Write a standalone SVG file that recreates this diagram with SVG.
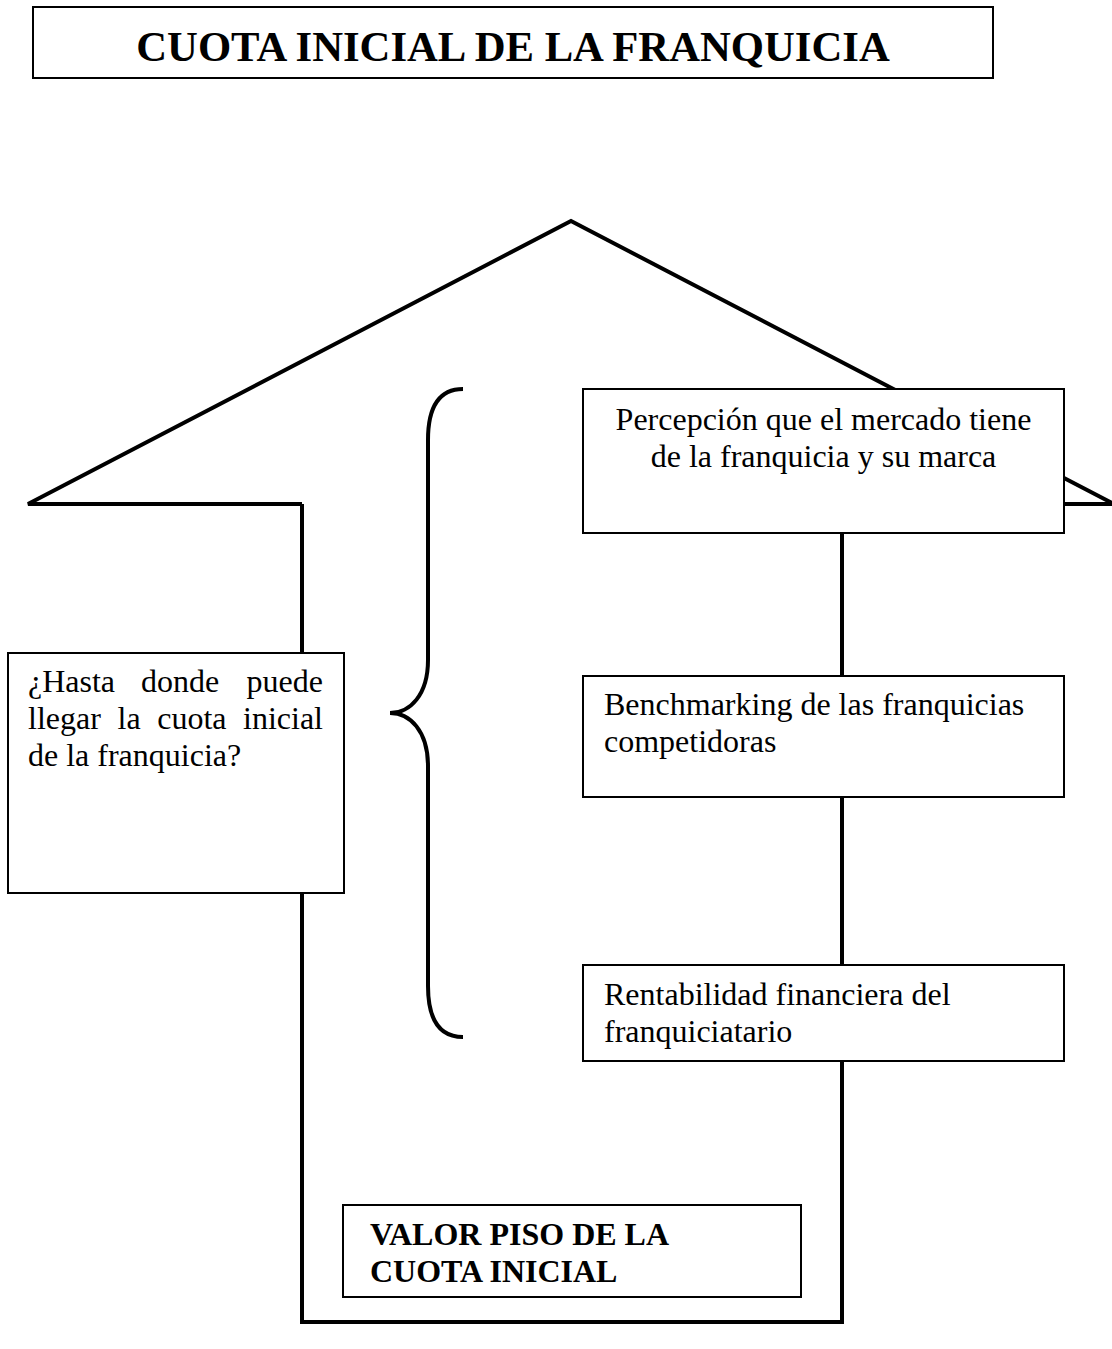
<svg xmlns="http://www.w3.org/2000/svg" width="1112" height="1349" viewBox="0 0 1112 1349">
  <style>
    .box { fill: #ffffff; stroke: #000000; stroke-width: 2; }
    .wall { fill: none; stroke: #000000; stroke-width: 4; stroke-linejoin: miter; }
    .txt { font-family: "Liberation Serif", "Times New Roman", serif; font-size: 32px; fill: #000000; }
    .bold { font-weight: bold; }
    .title { font-size: 42.7px; }
  </style>

  <rect width="1112" height="1349" fill="#ffffff"/>

  <!-- Title -->
  <g id="title">
    <rect class="box" x="33" y="7" width="960" height="71"/>
    <text class="txt bold title" x="513" y="61" text-anchor="middle">CUOTA INICIAL DE LA FRANQUICIA</text>
  </g>

  <!-- House outline: roof, walls and floor; the right wall links the factor boxes -->
  <g id="connectors">
    <polyline class="wall" points="302,504 28,504 571,221 1114,504 842,504"/>
    <polyline class="wall" points="302,504 302,1322 842,1322 842,504"/>
  </g>

  <!-- Curly brace grouping the three factors -->
  <g id="brace">
    <path class="wall" d="M463,389 C440,389 428,405 428,440 L428,660 C428,695 410,713 390,713 C410,713 428,731 428,766 L428,986 C428,1021 440,1037 463,1037"/>
  </g>

  <!-- Question box -->
  <g id="question">
    <rect class="box" x="8" y="653" width="336" height="240"/>
    <text class="txt" y="692">
      <tspan x="28">¿Hasta</tspan><tspan x="141">donde</tspan><tspan x="323" text-anchor="end">puede</tspan>
    </text>
    <text class="txt" y="729">
      <tspan x="28">llegar</tspan><tspan x="117.5">la</tspan><tspan x="157.2">cuota</tspan><tspan x="323" text-anchor="end">inicial</tspan>
    </text>
    <text class="txt" x="28" y="766">de la franquicia?</text>
  </g>

  <!-- Factor 1 -->
  <g id="perception">
    <rect class="box" x="583" y="389" width="481" height="144"/>
    <text class="txt" x="823.5" y="430" text-anchor="middle">Percepción que el mercado tiene</text>
    <text class="txt" x="823.5" y="467" text-anchor="middle">de la franquicia y su marca</text>
  </g>

  <!-- Factor 2 -->
  <g id="benchmarking">
    <rect class="box" x="583" y="676" width="481" height="121"/>
    <text class="txt" x="604" y="715">Benchmarking de las franquicias</text>
    <text class="txt" x="604" y="752">competidoras</text>
  </g>

  <!-- Factor 3 -->
  <g id="profitability">
    <rect class="box" x="583" y="965" width="481" height="96"/>
    <text class="txt" x="604" y="1005">Rentabilidad financiera del</text>
    <text class="txt" x="604" y="1042">franquiciatario</text>
  </g>

  <!-- Floor value -->
  <g id="floor-value">
    <rect class="box" x="343" y="1205" width="458" height="92"/>
    <text class="txt bold" x="370" y="1245">VALOR PISO DE LA</text>
    <text class="txt bold" x="370" y="1282">CUOTA INICIAL</text>
  </g>
</svg>
